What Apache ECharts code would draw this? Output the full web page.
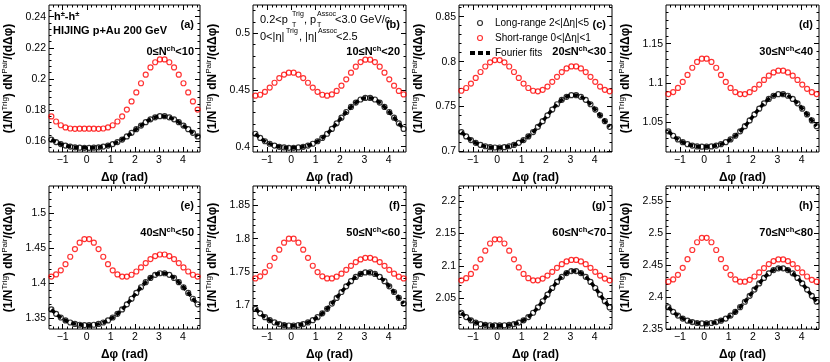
<!DOCTYPE html>
<html>
<head>
<meta charset="utf-8">
<script src="https://cdn.jsdelivr.net/npm/echarts@6/dist/echarts.min.js"></script>
<style>
html, body { margin: 0; padding: 0; background: #fff; }
#main { width: 830px; height: 362px; }
</style>
</head>
<body>
<div id="main"></div>
<script>
var chartDom = document.getElementById('main');
var myChart = echarts.init(chartDom);

// bin centres in delta-phi (rad), 32 bins over [-pi/2, 3pi/2]
const dphi = [-1.473, -1.276, -1.080, -0.884, -0.687, -0.491, -0.295, -0.098, 0.098, 0.295, 0.491, 0.687, 0.884, 1.080, 1.276, 1.473,
              1.669, 1.865, 2.062, 2.258, 2.454, 2.651, 2.847, 3.043, 3.240, 3.436, 3.633, 3.829, 4.025, 4.222, 4.418, 4.614];

// long-range 2<|deta|<5 (black open circles, fitted by the dashed line)
const longA = [0.1610,0.1594,0.1581,0.1571,0.1565,0.1560,0.1558,0.1557,0.1557,0.1558,0.1560,0.1565,0.1571,0.1581,0.1594,0.1610,0.1630,0.1653,0.1677,0.1700,0.1722,0.1740,0.1753,0.1760,0.1760,0.1753,0.1740,0.1722,0.1700,0.1677,0.1653,0.1630];
const longB = [0.4114,0.4077,0.4048,0.4026,0.4010,0.3999,0.3993,0.3990,0.3990,0.3993,0.3999,0.4010,0.4026,0.4048,0.4077,0.4114,0.4157,0.4206,0.4256,0.4306,0.4351,0.4389,0.4416,0.4430,0.4430,0.4416,0.4389,0.4351,0.4306,0.4256,0.4206,0.4157];
const longC = [0.7217,0.7168,0.7128,0.7097,0.7074,0.7059,0.7049,0.7045,0.7045,0.7049,0.7059,0.7074,0.7097,0.7128,0.7168,0.7217,0.7275,0.7338,0.7403,0.7467,0.7526,0.7575,0.7609,0.7627,0.7627,0.7609,0.7575,0.7526,0.7467,0.7403,0.7338,0.7275];
const longD = [1.0388,1.0332,1.0286,1.0251,1.0225,1.0208,1.0197,1.0193,1.0193,1.0197,1.0208,1.0225,1.0251,1.0286,1.0332,1.0388,1.0454,1.0526,1.0602,1.0676,1.0743,1.0799,1.0839,1.0859,1.0859,1.0839,1.0799,1.0743,1.0676,1.0602,1.0526,1.0454];
const longE = [1.3630,1.3567,1.3515,1.3474,1.3444,1.3424,1.3412,1.3406,1.3406,1.3412,1.3424,1.3444,1.3474,1.3515,1.3567,1.3630,1.3703,1.3783,1.3866,1.3947,1.4020,1.4081,1.4125,1.4147,1.4147,1.4125,1.4081,1.4020,1.3947,1.3866,1.3783,1.3703];
const longF = [1.6942,1.6873,1.6815,1.6770,1.6736,1.6712,1.6697,1.6690,1.6690,1.6697,1.6712,1.6736,1.6770,1.6815,1.6873,1.6942,1.7021,1.7106,1.7195,1.7280,1.7358,1.7422,1.7468,1.7491,1.7491,1.7468,1.7422,1.7358,1.7280,1.7195,1.7106,1.7021];
const longG = [2.0272,2.0205,2.0154,2.0119,2.0097,2.0084,2.0078,2.0076,2.0076,2.0078,2.0084,2.0097,2.0119,2.0154,2.0205,2.0272,2.0355,2.0450,2.0552,2.0655,2.0750,2.0829,2.0887,2.0917,2.0917,2.0887,2.0829,2.0750,2.0655,2.0552,2.0450,2.0355];
const longH = [2.3839,2.3766,2.3707,2.3661,2.3627,2.3605,2.3591,2.3585,2.3585,2.3591,2.3605,2.3627,2.3661,2.3707,2.3766,2.3839,2.3924,2.4017,2.4114,2.4210,2.4297,2.4369,2.4420,2.4447,2.4447,2.4420,2.4369,2.4297,2.4210,2.4114,2.4017,2.3924];

// short-range 0<|deta|<1 (red open circles)
const shortA = [0.1759,0.1726,0.1702,0.1688,0.1681,0.1679,0.1680,0.1680,0.1680,0.1680,0.1679,0.1681,0.1688,0.1702,0.1726,0.1759,0.1803,0.1855,0.1913,0.1972,0.2027,0.2074,0.2107,0.2125,0.2125,0.2107,0.2074,0.2027,0.1972,0.1913,0.1855,0.1803];
const shortB = [0.4450,0.4458,0.4484,0.4521,0.4564,0.4605,0.4636,0.4653,0.4653,0.4636,0.4605,0.4564,0.4521,0.4484,0.4458,0.4450,0.4461,0.4492,0.4538,0.4594,0.4653,0.4706,0.4746,0.4768,0.4768,0.4746,0.4706,0.4653,0.4594,0.4538,0.4492,0.4461];
const shortC = [0.7676,0.7707,0.7756,0.7819,0.7885,0.7946,0.7992,0.8017,0.8017,0.7992,0.7946,0.7885,0.7819,0.7756,0.7707,0.7676,0.7670,0.7686,0.7723,0.7775,0.7831,0.7884,0.7925,0.7947,0.7947,0.7925,0.7884,0.7831,0.7775,0.7723,0.7686,0.7670];
const shortD = [1.0860,1.0886,1.0939,1.1014,1.1103,1.1194,1.1268,1.1310,1.1310,1.1268,1.1194,1.1103,1.1014,1.0939,1.0886,1.0860,1.0860,1.0884,1.0927,1.0981,1.1040,1.1094,1.1135,1.1157,1.1157,1.1135,1.1094,1.1040,1.0981,1.0927,1.0884,1.0860];
const shortE = [1.4100,1.4130,1.4189,1.4276,1.4383,1.4492,1.4583,1.4635,1.4635,1.4583,1.4492,1.4383,1.4276,1.4189,1.4130,1.4100,1.4100,1.4126,1.4172,1.4230,1.4292,1.4349,1.4392,1.4415,1.4415,1.4392,1.4349,1.4292,1.4230,1.4172,1.4126,1.4100];
const shortF = [1.7400,1.7431,1.7495,1.7591,1.7710,1.7834,1.7939,1.8000,1.8000,1.7939,1.7834,1.7710,1.7591,1.7495,1.7431,1.7400,1.7400,1.7426,1.7472,1.7529,1.7590,1.7646,1.7687,1.7710,1.7710,1.7687,1.7646,1.7590,1.7529,1.7472,1.7426,1.7400];
const shortG = [2.0775,2.0807,2.0874,2.0974,2.1100,2.1233,2.1345,2.1410,2.1410,2.1345,2.1233,2.1100,2.0974,2.0874,2.0807,2.0775,2.0775,2.0802,2.0848,2.0906,2.0968,2.1025,2.1067,2.1090,2.1090,2.1067,2.1025,2.0968,2.0906,2.0848,2.0802,2.0775];
const shortH = [2.4238,2.4273,2.4346,2.4455,2.4591,2.4734,2.4855,2.4925,2.4925,2.4855,2.4734,2.4591,2.4455,2.4346,2.4273,2.4238,2.4238,2.4267,2.4319,2.4383,2.4451,2.4514,2.4561,2.4586,2.4586,2.4561,2.4514,2.4451,2.4383,2.4319,2.4267,2.4238];

// axis ranges and tick labels per panel
const yMin = [0.153, 0.3953, 0.6995, 1.0126, 1.3351, 1.6637, 2.002, 2.3497];
const yMax = [0.2475, 0.525, 0.863, 1.199, 1.5393, 1.8794, 2.2236, 2.5736];
const yTicks = [
    [0.16, 0.18, 0.2, 0.22, 0.24],
    [0.4, 0.45, 0.5],
    [0.7, 0.75, 0.8, 0.85],
    [1.05, 1.1, 1.15],
    [1.35, 1.4, 1.45, 1.5],
    [1.7, 1.75, 1.8, 1.85],
    [2.05, 2.1, 2.15, 2.2],
    [2.35, 2.4, 2.45, 2.5, 2.55]
];
const yStep = [0.02, 0.05, 0.05, 0.05, 0.05, 0.05, 0.05, 0.05];
const xTicks = [-1, 0, 1, 2, 3, 4];
const panelTags = ['(a)', '(b)', '(c)', '(d)', '(e)', '(f)', '(g)', '(h)'];
const nchLow = [0, 10, 20, 30, 40, 50, 60, 70];
const nchHigh = [10, 20, 30, 40, 50, 60, 70, 80];

const longData = [longA, longB, longC, longD, longE, longF, longG, longH];
const shortData = [shortA, shortB, shortC, shortD, shortE, shortF, shortG, shortH];

const LONG_NAME = 'Long-range 2<|Δη|<5';
const SHORT_NAME = 'Short-range 0<|Δη|<1';
const FIT_NAME = 'Fourier fits';

const FONT = 'Liberation Sans';
const panelLeft = [47, 253, 459, 666];
const panelTop = [5, 186];
const panelW = 153, panelH = 147;
const X_MIN = -Math.PI / 2, X_MAX = 3 * Math.PI / 2;

function pairs(ys) {
    return dphi.map(function (x, k) { return [x, ys[k]]; });
}

// minor tick positions: 5 subdivisions of each major step, inside the range
function minorTicks(first, step, lo, hi) {
    var out = [];
    var sub = step / 5;
    var start = first - Math.ceil((first - lo) / sub) * sub;
    for (var v = start; v <= hi + 1e-9; v += sub) {
        var r = Math.round((v - first) / sub);
        if (r % 5 !== 0 && v >= lo && v <= hi) out.push(+v.toFixed(6));
    }
    return out;
}

var grids = [], xAxes = [], yAxes = [], series = [], graphics = [];

function txt(x, y, text, size, bold, align) {
    return {
        type: 'text', x: x, y: y, z: 100,
        style: {
            text: text, fill: '#000', align: align || 'left', verticalAlign: 'middle',
            font: (bold ? 'bold ' : '') + size + 'px ' + FONT
        }
    };
}
function supText(x, y, parts, align) {
    // parts: [[text, isSup], ...]
    var s = parts.map(function (p) { return '{' + (p[1] ? 's' : 'b') + '|' + p[0] + '}'; }).join('');
    return {
        type: 'text', x: x, y: y, z: 100,
        style: {
            text: s, align: align || 'left', verticalAlign: 'middle',
            rich: {
                b: { fontSize: 11, fontWeight: 'bold', fontFamily: FONT, lineHeight: 15, fill: '#000' },
                s: { fontSize: 7.5, fontWeight: 'bold', fontFamily: FONT, lineHeight: 7, verticalAlign: 'top', fill: '#000' }
            }
        }
    };
}

function tickAxis(gridIndex, pos, min, max, values, len) {
    return {
        gridIndex: gridIndex, type: 'value', min: min, max: max, position: pos,
        axisLine: { show: false, onZero: false }, splitLine: { show: false },
        axisTick: { inside: true, length: len, customValues: values, lineStyle: { color: '#000' } },
        axisLabel: { show: false }
    };
}

var xMinor = minorTicks(0, 1, X_MIN, X_MAX);

for (var i = 0; i < 8; i++) {
    var col = i % 4, row = Math.floor(i / 4);
    var L = panelLeft[col], T = panelTop[row], R = L + panelW;
    grids.push({ left: L, top: T, width: panelW, height: panelH, show: true, borderColor: '#000', borderWidth: 1, backgroundColor: 'transparent' });

    var xa = xAxes.length, ya = yAxes.length;
    xAxes.push({
        gridIndex: i, type: 'value', min: X_MIN, max: X_MAX, position: 'bottom',
        name: 'Δφ (rad)', nameLocation: 'middle', nameGap: 20,
        nameTextStyle: { fontFamily: FONT, fontSize: 12, fontWeight: 'bold', color: '#000' },
        axisLine: { show: false, onZero: false }, splitLine: { show: false },
        axisTick: { inside: true, length: 5, customValues: xTicks, lineStyle: { color: '#000' } },
        axisLabel: { customValues: xTicks, margin: 3, fontFamily: FONT, fontSize: 10.5, color: '#000',
            formatter: function (v) { return String(v).replace('-', '−'); } }
    });
    xAxes.push(tickAxis(i, 'top', X_MIN, X_MAX, xTicks, 5));
    xAxes.push(tickAxis(i, 'bottom', X_MIN, X_MAX, xMinor, 2.5));
    xAxes.push(tickAxis(i, 'top', X_MIN, X_MAX, xMinor, 2.5));

    var yMinor = minorTicks(yTicks[i][0], yStep[i], yMin[i], yMax[i]);
    yAxes.push({
        gridIndex: i, type: 'value', min: yMin[i], max: yMax[i], position: 'left',
        name: '{b|(1/N}{s|Trig}{b|) dN}{s|Pair}{b|/(dΔφ)}', nameLocation: 'middle', nameGap: 32,
        nameTextStyle: {
            rich: {
                b: { fontFamily: FONT, fontSize: 12, fontWeight: 'bold', lineHeight: 16, color: '#000' },
                s: { fontFamily: FONT, fontSize: 8, lineHeight: 8, verticalAlign: 'top', color: '#000' }
            }
        },
        axisLine: { show: false, onZero: false }, splitLine: { show: false },
        axisTick: { inside: true, length: 5, customValues: yTicks[i], lineStyle: { color: '#000' } },
        axisLabel: { customValues: yTicks[i], margin: 3, fontFamily: FONT, fontSize: 10.5, color: '#000' }
    });
    yAxes.push(tickAxis(i, 'right', yMin[i], yMax[i], yTicks[i], 5));
    yAxes.push(tickAxis(i, 'left', yMin[i], yMax[i], yMinor, 2.5));
    yAxes.push(tickAxis(i, 'right', yMin[i], yMax[i], yMinor, 2.5));

    series.push({
        name: SHORT_NAME, type: 'scatter', xAxisIndex: xa, yAxisIndex: ya,
        data: pairs(shortData[i]), symbol: 'circle', symbolSize: 5,
        itemStyle: { color: 'rgba(255,255,255,0)', borderColor: '#ff0000', borderWidth: 1.2 },
        emphasis: { disabled: true }, z: 3
    });
    series.push({
        name: LONG_NAME, type: 'scatter', xAxisIndex: xa, yAxisIndex: ya,
        data: pairs(longData[i]), symbol: 'circle', symbolSize: 5,
        itemStyle: { color: 'rgba(255,255,255,0)', borderColor: '#000', borderWidth: 1.2 },
        emphasis: { disabled: true }, z: 3
    });
    series.push({
        name: FIT_NAME, type: 'line', xAxisIndex: xa, yAxisIndex: ya,
        data: pairs(longData[i]), symbol: 'none', smooth: 0.4,
        itemStyle: { color: '#000' },
        lineStyle: { color: '#000', width: 3.5, type: [5, 3] },
        emphasis: { disabled: true }, z: 4
    });

    // panel tag and multiplicity class
    graphics.push(txt(R - 6, T + 20, panelTags[i], 11, true, 'right'));
    graphics.push(supText(R - 6, T + 47, [[nchLow[i] + '≤N', false], ['ch', true], ['<' + nchHigh[i], false]], 'right'));
}

// panel (a) header
graphics.push(supText(54, 17, [['h', false], ['±', true], ['-h', false], ['±', true]]));
graphics.push(txt(53, 31, 'HIJING p+Au 200 GeV', 11, true));

// panel (b) kinematic cuts
graphics.push(txt(260, 20, '0.2<p', 11, false));
graphics.push(txt(292, 14, 'Trig', 7, false));
graphics.push(txt(292, 25, 'T', 7, false));
graphics.push(txt(304, 20, ', p', 11, false));
graphics.push(txt(317, 14, 'Assoc', 7, false));
graphics.push(txt(317, 25, 'T', 7, false));
graphics.push(txt(335, 20, '<3.0 GeV/c', 11, false));
graphics.push(txt(260, 37, '0<|η|', 11, false));
graphics.push(txt(286, 31, 'Trig', 7, false));
graphics.push(txt(299, 37, ', |η|', 11, false));
graphics.push(txt(318, 31, 'Assoc', 7, false));
graphics.push(txt(336, 37, '<2.5', 11, false));

option = {
    animation: false,
    backgroundColor: '#fff',
    grid: grids,
    xAxis: xAxes,
    yAxis: yAxes,
    legend: {
        orient: 'vertical', left: 463, top: 12,
        itemWidth: 20, itemHeight: 5, itemGap: 3,
        selectedMode: false,
        itemStyle: { borderWidth: 1.2 },
        textStyle: { fontFamily: FONT, fontSize: 10, color: '#000', lineHeight: 12 },
        lineStyle: { width: 4 },
        data: [LONG_NAME, SHORT_NAME, FIT_NAME]
    },
    series: series,
    graphic: { elements: graphics }
};

myChart.setOption(option);
</script>
</body>
</html>
